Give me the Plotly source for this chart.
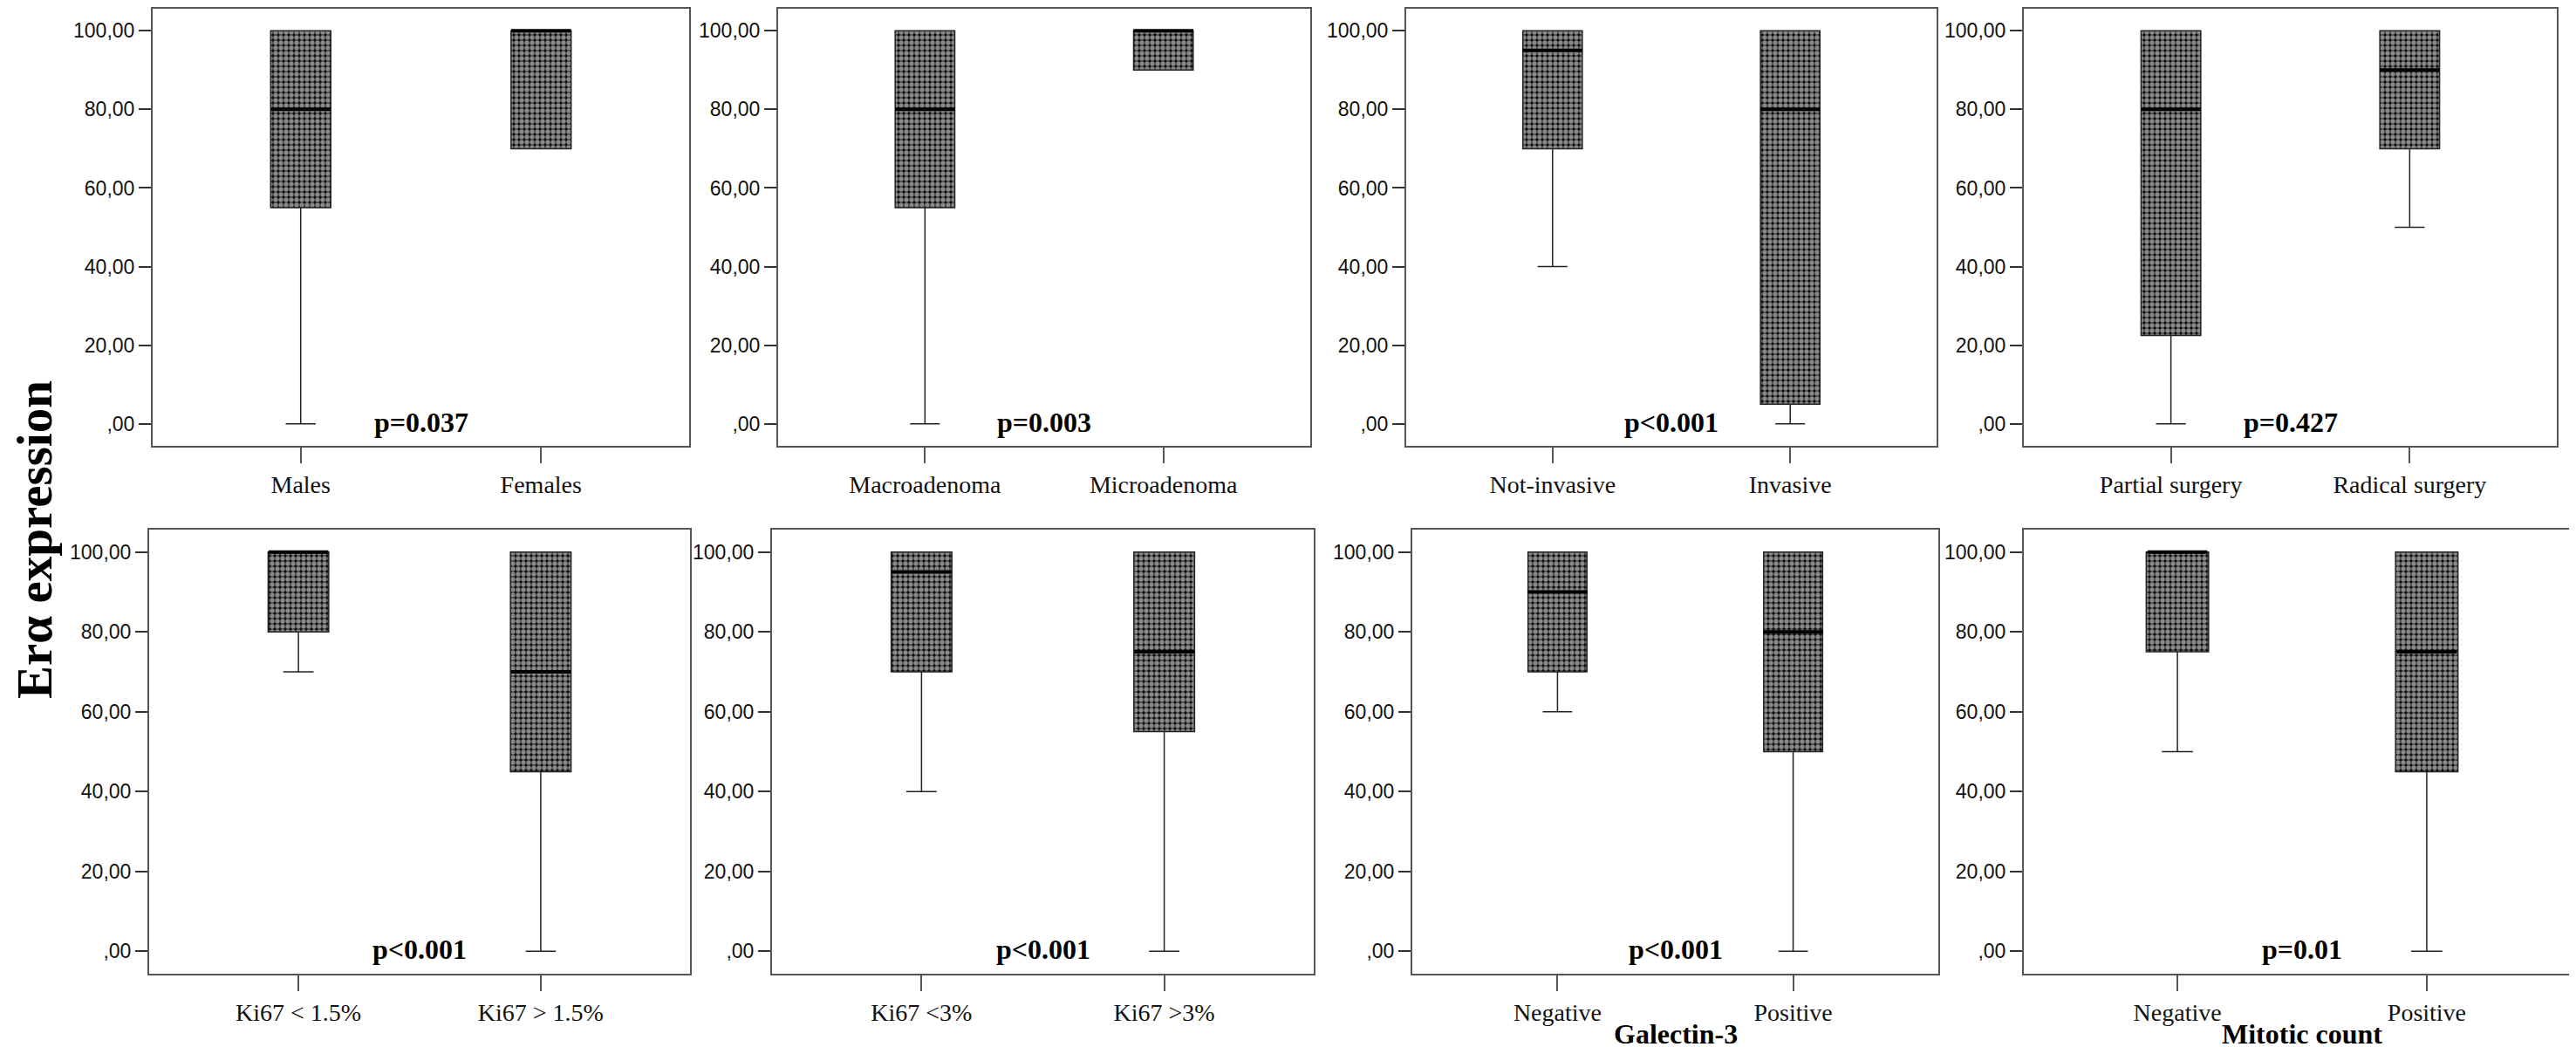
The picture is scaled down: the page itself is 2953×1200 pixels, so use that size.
import plotly.graph_objects as go
from plotly.subplots import make_subplots

W, H = 2953, 1200

# one entry per panel, left to right, top row first
GROUPS = [
    ['Males', 'Females'],
    ['Macroadenoma', 'Microadenoma'],
    ['Not-invasive', 'Invasive'],
    ['Partial surgery', 'Radical surgery'],
    ['Ki67 < 1.5%', 'Ki67 > 1.5%'],
    ['Ki67 <3%', 'Ki67 >3%'],
    ['Negative', 'Positive'],
    ['Negative', 'Positive'],
]
LOWER = [[0, 70], [0, 90], [40, 0], [0, 50], [70, 0], [40, 0], [60, 0], [50, 0]]
Q1 = [[55, 70], [55, 90], [70, 5], [22.5, 70], [80, 45], [70, 55], [70, 50], [75, 45]]
MEDIAN = [[80, 100], [80, 100], [95, 80], [80, 90], [100, 70], [95, 75], [90, 80], [100, 75]]
Q3 = [[100, 100]] * 8
UPPER = [[100, 100]] * 8
P_VALUES = ['p=0.037', 'p=0.003', 'p<0.001', 'p=0.427',
            'p<0.001', 'p<0.001', 'p<0.001', 'p=0.01']
X_TITLES = ['', '', '', '', '', '', 'Galectin-3', 'Mitotic count']
Y_TICKS = [0, 20, 40, 60, 80, 100]
Y_TICKTEXT = [',00', '20,00', '40,00', '60,00', '80,00', '100,00']
Y_TITLE = 'Erα expression'

# panel frames in pixels (left, right) and (top, bottom)
COLS = [[(167, 782), (884, 1494), (1604, 2212), (2312, 2923)],
        [(163, 783), (877, 1498), (1611, 2214), (2312, 2950)]]
ROWS = [(2, 503), (599, 1108)]

SERIF = 'Liberation Serif'
SANS = 'Liberation Sans'
BOX_W = 0.25

fig = make_subplots(rows=2, cols=4)

for i in range(8):
    r, c = i // 4 + 1, i % 4 + 1
    x = GROUPS[i]
    span = [q3 - q1 for q1, q3 in zip(Q1[i], Q3[i])]
    # checkered box body: white dots on black
    fig.add_trace(go.Bar(x=x, y=span, base=Q1[i], width=BOX_W,
                         marker=dict(color='black', line=dict(width=0),
                                     pattern=dict(shape='.', fgcolor='white', bgcolor='#111111',
                                                  size=6, solidity=0.62)),
                         showlegend=False, hoverinfo='skip'), row=r, col=c)
    fig.add_trace(go.Box(x=x, q1=Q1[i], median=MEDIAN[i], q3=Q3[i],
                         lowerfence=LOWER[i], upperfence=UPPER[i],
                         width=BOX_W, whiskerwidth=0.5, boxpoints=False,
                         fillcolor='rgba(0,0,0,0)', line=dict(color='#222222', width=1.5),
                         showlegend=False), row=r, col=c)
    # thicker median line
    fig.add_trace(go.Scatter(x=x, y=MEDIAN[i], mode='markers',
                             marker=dict(symbol='line-ew', size=49,
                                         line=dict(color='black', width=4)),
                             showlegend=False, hoverinfo='skip'), row=r, col=c)

    (x0, x1), (y0, y1) = COLS[r - 1][c - 1], ROWS[r - 1]
    fig.update_xaxes(domain=[x0 / W, x1 / W], type='category', range=[-0.616, 1.616],
                     showline=True, mirror=True, linecolor='#555555', linewidth=2,
                     ticks='outside', ticklen=18, tickwidth=2, tickcolor='#555555',
                     tickfont=dict(family=SERIF, size=28, color='#111111'),
                     showgrid=False, zeroline=False, row=r, col=c)
    fig.update_yaxes(domain=[1 - y1 / H, 1 - y0 / H], range=[-5.6, 105.6],
                     tickvals=Y_TICKS, ticktext=Y_TICKTEXT,
                     showline=True, mirror=True, linecolor='#555555', linewidth=2,
                     ticks='outside', ticklen=14, tickwidth=2, tickcolor='#333333',
                     tickfont=dict(family=SANS, size=23, color='#111111'),
                     showgrid=False, zeroline=False, row=r, col=c)

    n = '' if i == 0 else str(i + 1)
    fig.add_annotation(text='<b>' + P_VALUES[i] + '</b>', xref=f'x{n} domain', x=0.5,
                       yref=f'y{n}', y=0.5, yanchor='middle', showarrow=False,
                       font=dict(family=SERIF, size=32, color='black'))
    if X_TITLES[i]:
        fig.add_annotation(text='<b>' + X_TITLES[i] + '</b>', xref=f'x{n} domain', x=0.5,
                           yref='paper', y=1 - 1177 / H, yanchor='middle', showarrow=False,
                           font=dict(family=SERIF, size=32, color='black'))

fig.add_annotation(text='<b>' + Y_TITLE + '</b>', textangle=-90, xref='paper', x=31 / W,
                   yref='paper', y=1 - 611 / H, xanchor='center', yanchor='middle',
                   showarrow=False, font=dict(family=SERIF, size=57, color='black'))

fig.update_layout(width=W, height=H, margin=dict(l=0, r=0, t=0, b=0),
                  paper_bgcolor='white', plot_bgcolor='white',
                  barmode='overlay', boxmode='overlay', showlegend=False)

fig.write_html('out.html')
